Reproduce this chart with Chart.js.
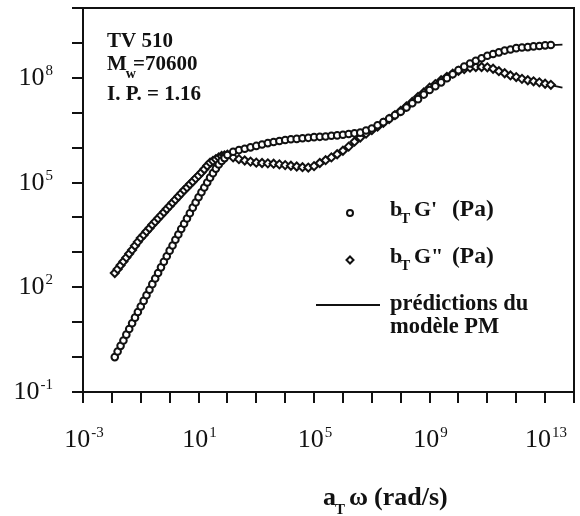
<!DOCTYPE html>
<html>
<head>
<meta charset="utf-8">
<script src="https://cdn.jsdelivr.net/npm/chart.js@4/dist/chart.umd.min.js"></script>
<style>
  body { margin: 0; background: #fff; }
  canvas { display: block; }
</style>
</head>
<body>
<canvas id="chart" width="580" height="516"></canvas>
<script>
// shifted frequency a_T w (rad/s), shared by both measured moduli
var omega = [
  1.26e-2, 1.58e-2, 2.0e-2, 2.51e-2, 3.16e-2, 3.98e-2, 5.01e-2, 6.31e-2, 7.94e-2, 0.1,
  0.126, 0.158, 0.2, 0.251, 0.316, 0.398, 0.501, 0.631, 0.794, 1,
  1.26, 1.58, 2.0, 2.51, 3.16, 3.98, 5.01, 6.31, 7.94, 10,
  12.6, 15.8, 20, 25.1, 31.6, 39.8, 50.1, 63.1, 79.4,
  1e2, 1.58e2, 2.51e2, 3.98e2, 6.31e2,
  1e3, 1.58e3, 2.51e3, 3.98e3, 6.31e3,
  1e4, 1.58e4, 2.51e4, 3.98e4, 6.31e4,
  1e5, 1.58e5, 2.51e5, 3.98e5, 6.31e5,
  1e6, 1.58e6, 2.51e6, 3.98e6, 6.31e6,
  1e7, 1.58e7, 2.51e7, 3.98e7, 6.31e7,
  1e8, 1.58e8, 2.51e8, 3.98e8, 6.31e8,
  1e9, 1.58e9, 2.51e9, 3.98e9, 6.31e9,
  1e10, 1.58e10, 2.51e10, 3.98e10, 6.31e10,
  1e11, 1.58e11, 2.51e11, 3.98e11, 6.31e11,
  1e12, 1.58e12, 2.51e12, 3.98e12, 6.31e12,
  1e13, 1.58e13
]
// b_T G' (Pa)
var gPrime = [
  1.0, 1.45, 2.1, 3.0, 4.4, 6.4, 9.3, 13.5, 19.5, 28.2,
  40.7, 58.9, 85, 123, 178, 257, 372, 537, 776, 1120,
  1580, 2290, 3240, 4680, 6610, 9330, 1.32e4, 1.91e4, 2.69e4, 3.8e4,
  5.25e4, 7.24e4, 1.0e5, 1.38e5, 1.86e5, 2.51e5, 3.31e5, 4.17e5, 5.01e5,
  6.17e5, 7.59e5, 8.51e5, 9.33e5, 1.02e6,
  1.12e6, 1.23e6, 1.35e6, 1.45e6, 1.55e6,
  1.66e6, 1.74e6, 1.78e6, 1.86e6, 1.91e6,
  2.0e6, 2.04e6, 2.09e6, 2.19e6, 2.24e6,
  2.34e6, 2.45e6, 2.57e6, 2.69e6, 3.09e6,
  3.55e6, 4.37e6, 5.37e6, 6.76e6, 8.51e6,
  1.07e7, 1.41e7, 1.86e7, 2.45e7, 3.31e7,
  4.47e7, 5.75e7, 7.41e7, 9.77e7, 1.26e8,
  1.66e8, 2.09e8, 2.57e8, 3.09e8, 3.63e8,
  4.27e8, 4.79e8, 5.37e8, 6.03e8, 6.46e8,
  7.08e8, 7.41e8, 7.59e8, 7.94e8, 8.13e8,
  8.51e8, 8.71e8
]
// b_T G'' (Pa)
var gSecond = [
  257, 331, 427, 550, 708, 912, 1175, 1550, 2000, 2570,
  3160, 3980, 4900, 6170, 7590, 9330, 1.15e4, 1.41e4, 1.74e4, 2.14e4,
  2.63e4, 3.24e4, 3.98e4, 4.9e4, 6.03e4, 7.24e4, 8.91e4, 1.07e5, 1.32e5, 1.58e5,
  1.95e5, 2.4e5, 3.02e5, 3.72e5, 4.17e5, 4.68e5, 5.25e5, 5.75e5, 6.03e5,
  6.31e5, 5.25e5, 4.68e5, 4.27e5, 3.98e5,
  3.72e5, 3.63e5, 3.55e5, 3.47e5, 3.31e5,
  3.16e5, 3.02e5, 2.88e5, 2.75e5, 2.69e5,
  2.95e5, 3.63e5, 4.37e5, 5.25e5, 6.46e5,
  8.13e5, 1.07e6, 1.48e6, 1.95e6, 2.51e6,
  3.16e6, 3.98e6, 5.13e6, 6.61e6, 8.51e6,
  1.12e7, 1.51e7, 2.04e7, 2.82e7, 3.8e7,
  5.25e7, 6.61e7, 8.51e7, 1.07e8, 1.32e8,
  1.58e8, 1.78e8, 1.95e8, 2.04e8, 2.04e8,
  2.0e8, 1.82e8, 1.55e8, 1.35e8, 1.17e8,
  1.05e8, 9.33e7, 8.51e7, 7.94e7, 7.41e7,
  6.76e7, 6.31e7
]
// PM model predictions
var omegaModel = [1.26e-2, 0.1, 1, 10, 31.6, 100, 316, 1e3, 1e4, 1e5, 1e6, 1e7, 1e8, 1e9, 1e10, 3.16e10, 1e11, 3.16e11, 1e12, 3.16e12, 1e13, 3.98e13]
var modelGPrime = [1.0, 28, 1120, 3.8e4, 1.86e5, 6.17e5, 9.0e5, 1.12e6, 1.66e6, 2.0e6, 2.34e6, 3.55e6, 1.07e7, 4.47e7, 1.66e8, 2.9e8, 4.27e8, 5.7e8, 7.08e8, 7.8e8, 8.51e8, 8.9e8]
var modelGSecond = [257, 2570, 2.14e4, 1.58e5, 4.17e5, 6.31e5, 4.4e5, 3.72e5, 3.16e5, 2.95e5, 8.13e5, 3.16e6, 1.12e7, 5.25e7, 1.58e8, 2.0e8, 2.0e8, 1.45e8, 1.05e8, 8.2e7, 6.76e7, 5.2e7]

// axis decades (exponents) and the ones that carry a label
var xDecades = [-3, 14]
var yDecades = [-1, 10]
var xTickLabels = [-3, 1, 5, 9, 13]
var yTickLabels = [-1, 2, 5, 8]

function pts(xs, ys) {
  return xs.map(function (x, i) { return { x: x, y: ys[i] } })
}

var INK = '#111'
var SERIF = '"Liberation Serif", "Times New Roman", serif'

// draws runs of text side by side: [text, size, dy, dx]
function runs(ctx, x, y, parts, bold) {
  var cx = x
  parts.forEach(function (p) {
    ctx.font = (bold ? 'bold ' : '') + p[1] + 'px ' + SERIF
    cx += p[3] || 0
    ctx.fillText(p[0], cx, y + (p[2] || 0))
    cx += ctx.measureText(p[0]).width
  })
}

function powerLabel(ctx, exp, x, y, align) {
  ctx.font = '26px ' + SERIF
  var w1 = ctx.measureText('10').width
  ctx.font = '15px ' + SERIF
  var w2 = ctx.measureText(String(exp)).width
  var start = align === 'right' ? x - w1 - w2 - 1 : x - (w1 + w2 + 1) / 2
  runs(ctx, start, y, [['10', 26], [String(exp), 15, -10, 1]], false)
}

var framePlugin = {
  id: 'frame',
  afterDraw: function (chart) {
    var ctx = chart.ctx
    var a = chart.chartArea
    var xs = chart.scales.x
    var ys = chart.scales.y
    ctx.save()
    ctx.strokeStyle = INK
    ctx.fillStyle = INK
    ctx.lineWidth = 2
    ctx.strokeRect(a.left, a.top, a.right - a.left, a.bottom - a.top)

    ctx.beginPath()
    for (var e = xDecades[0]; e <= xDecades[1]; e++) {
      var px = Math.round(xs.getPixelForValue(Math.pow(10, e)))
      ctx.moveTo(px, a.bottom)
      ctx.lineTo(px, a.bottom + 11)
    }
    for (var k = yDecades[0]; k <= yDecades[1]; k++) {
      var py = Math.round(ys.getPixelForValue(Math.pow(10, k)))
      ctx.moveTo(a.left, py)
      ctx.lineTo(a.left - 11, py)
    }
    ctx.stroke()

    ctx.textBaseline = 'alphabetic'
    ctx.textAlign = 'left'
    xTickLabels.forEach(function (e) {
      powerLabel(ctx, e, xs.getPixelForValue(Math.pow(10, e)) + 1, a.bottom + 55, 'center')
    })
    yTickLabels.forEach(function (e) {
      powerLabel(ctx, e, 53, ys.getPixelForValue(Math.pow(10, e)) + 7, 'right')
    })

    // axis title
    runs(ctx, 323, 505, [['a', 26], ['T', 15, 9, -1]], true)
    runs(ctx, 349, 505, [['\u03c9', 26]], true)
    runs(ctx, 374, 505, [['(rad/s)', 26]], true)

    // sample annotation
    runs(ctx, 107, 47, [['TV 510', 21]], true)
    runs(ctx, 107, 70, [['M', 21], ['w', 14, 8, -1], ['=70600', 21, 0, -3]], true)
    runs(ctx, 107, 100, [['I. P. = 1.16', 21]], true)

    // legend
    ctx.lineWidth = 2
    ctx.beginPath()
    ctx.arc(350, 213, 3, 0, Math.PI * 2)
    ctx.stroke()
    ctx.beginPath()
    ctx.moveTo(350, 256.5)
    ctx.lineTo(353.5, 260)
    ctx.lineTo(350, 263.5)
    ctx.lineTo(346.5, 260)
    ctx.closePath()
    ctx.stroke()
    ctx.beginPath()
    ctx.moveTo(316, 305)
    ctx.lineTo(380, 305)
    ctx.stroke()

    runs(ctx, 390, 216, [['b', 22], ['T', 15, 7, -2]], true)
    runs(ctx, 414, 216, [["G'", 22]], true)
    runs(ctx, 452, 216, [['(Pa)', 23.5]], true)
    runs(ctx, 390, 263, [['b', 22], ['T', 15, 7, -2]], true)
    runs(ctx, 414, 263, [['G"', 22]], true)
    runs(ctx, 452, 263, [['(Pa)', 23.5]], true)
    runs(ctx, 390, 310, [['pr\u00e9dictions du', 22.5]], true)
    runs(ctx, 390, 333, [['mod\u00e8le PM', 22.5]], true)
    ctx.restore()
  }
}

var marker = {
  borderColor: INK,
  backgroundColor: '#fff',
  borderWidth: 2,
  showLine: false
}

new Chart(document.getElementById('chart'), {
  type: 'scatter',
  data: {
    datasets: [
      Object.assign({ label: "b_T G' (Pa)", data: pts(omega, gPrime), pointStyle: 'circle', pointRadius: 3.3 }, marker),
      Object.assign({ label: 'b_T G" (Pa)', data: pts(omega, gSecond), pointStyle: 'rectRot', pointRadius: 4 }, marker),
      {
        label: 'prédictions du modèle PM', data: pts(omegaModel, modelGPrime), showLine: true,
        borderColor: INK, borderWidth: 1.8, pointRadius: 0, cubicInterpolationMode: 'monotone'
      },
      {
        label: 'prédictions du modèle PM (G")', data: pts(omegaModel, modelGSecond), showLine: true,
        borderColor: INK, borderWidth: 1.8, pointRadius: 0, cubicInterpolationMode: 'monotone'
      }
    ]
  },
  options: {
    responsive: false,
    animation: false,
    layout: { padding: { left: 83, right: 5, top: 8, bottom: 124 } },
    plugins: { legend: { display: false }, tooltip: { enabled: false } },
    scales: {
      x: { type: 'logarithmic', display: false, min: 1e-3, max: 1e14 },
      y: { type: 'logarithmic', display: false, min: 0.1, max: 1e10 }
    }
  },
  plugins: [framePlugin]
})
</script>
</body>
</html>
